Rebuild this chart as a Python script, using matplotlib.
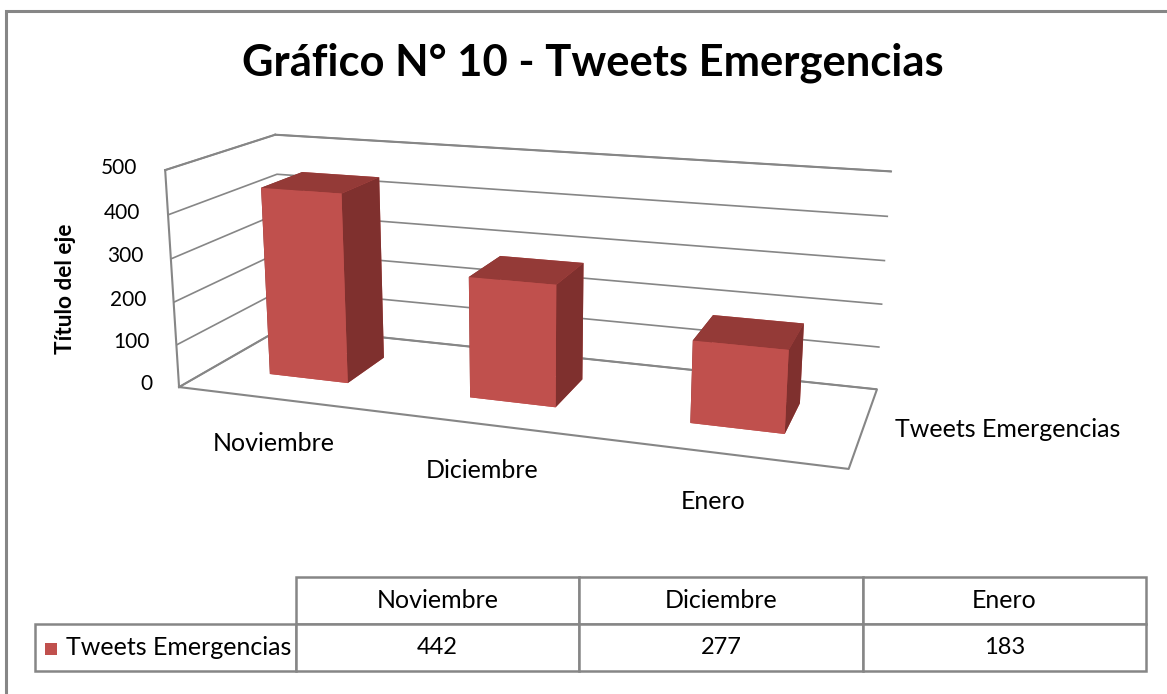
import matplotlib
matplotlib.use("Agg")
import matplotlib.pyplot as plt
import numpy as np
from matplotlib.patches import Rectangle
from matplotlib.table import Table

# data
categories = ["Noviembre", "Diciembre", "Enero"]
values = [442, 277, 183]
series_name = "Tweets Emergencias"
z_ticks = [0, 100, 200, 300, 400, 500]

title = "Gráfico N° 10 - Tweets Emergencias"
z_title = "Título del eje"

front_c = "#C0504D"
side_c = "#7F302E"
top_c = "#943A37"
line_c = "#868686"

plt.rcParams["font.family"] = ["Lato", "DejaVu Sans"]

W, H = 1167, 694
fig = plt.figure(figsize=(W / 100, H / 100), dpi=100)


def fx(px):
    return px / W


def fy(py):
    return 1 - py / H


# outer chart border
fig.add_artist(Rectangle((fx(6), -0.1), 1.2, fy(11) + 0.1, transform=fig.transFigure,
                         fill=False, edgecolor=line_c, lw=2.2))

fig.text(fx(593), fy(63), title, ha="center", va="center", fontsize=31.3, fontweight="bold")
fig.text(fx(66), fy(289), z_title, ha="center", va="center", rotation=90,
         fontsize=16.3, fontweight="bold")

# 3d column chart
ax = fig.add_axes([0.021, 0.2245, 0.85, 0.72], projection="3d")
ax.set_xlim(0, 3)
ax.set_ylim(0, 1)
ax.set_zlim(0, 500)
ax.set_box_aspect((3, 1, 1.0), zoom=1.45)
ax.view_init(elev=15, azim=-71)
ax.set_proj_type("persp", focal_length=0.55)

for axis in (ax.xaxis, ax.yaxis, ax.zaxis):
    axis.set_pane_color((1, 1, 1, 1))
    axis.pane.set_edgecolor((1, 1, 1, 0))
    axis.line.set_color((0, 0, 0, 0))
    axis._axinfo["tick"]["inward_factor"] = 0.0
    axis._axinfo["tick"]["outward_factor"] = 0.0
ax.set_xticks([])
ax.set_yticks([])
ax.set_zticks(z_ticks)
ax.zaxis.set_ticklabels([])
ax.zaxis._axinfo["grid"].update(color=line_c, linewidth=1.2)
ax.grid(True)

# wall / floor outline
kw = dict(color=line_c, lw=1.5)
ax.plot([0, 0], [0, 0], [0, 500], **kw)
ax.plot([0, 0], [0, 1], [500, 500], **kw)
ax.plot([0, 3], [1, 1], [500, 500], **kw)
ax.plot([0, 3, 3, 0, 0], [0, 0, 1, 1, 0], [0, 0, 0, 0, 0], **kw)

xs = np.arange(len(values)) + 0.5
bw, bd = 0.4, 0.4
face_colors = []
for _ in values:
    # -Z, +Z, -Y, +Y, -X, +X
    face_colors += [front_c, top_c, front_c, front_c, side_c, side_c]
ax.bar3d(xs - bw / 2, np.full(len(values), 0.5 - bd / 2), np.zeros(len(values)),
         bw, bd, values, color=face_colors, shade=False, edgecolor="none")

# the 3d axes box is square, so let the drawing spill out of it
for art in ax.lines + ax.collections:
    art.set_clip_on(False)

for z in z_ticks:
    ax.text(-0.14, 0, z, str(z), ha="right", va="center", fontsize=15)
for x, c in zip(xs, categories):
    ax.text(x - 0.03, 0, -106, c, ha="center", va="center", fontsize=18)
ax.text(3.13, 0.5, 0, series_name, ha="left", va="center", fontsize=18)

# data table
ax_t = fig.add_axes([fx(35), fy(671), fx(1146 - 35), fy(577) - fy(671)])
ax_t.axis("off")
tab = Table(ax_t, bbox=[0, 0, 1, 1])
lab_w, col_w = 261, 283.3
for j, c in enumerate(categories):
    cell = tab.add_cell(0, j + 1, width=col_w, height=1, text=c, loc="center")
cell = tab.add_cell(1, 0, width=lab_w, height=1, text=series_name, loc="left")
cell.PAD = 0.12
for j, v in enumerate(values):
    tab.add_cell(1, j + 1, width=col_w, height=1, text=str(v), loc="center")
tab.auto_set_font_size(False)
for (r, c), cell in tab.get_celld().items():
    cell.set_edgecolor(line_c)
    cell.set_linewidth(1.8)
    cell.get_text().set_fontsize(17 if (r == 1 and c > 0) else 18)
ax_t.add_table(tab)

# legend key in the table
fig.add_artist(Rectangle((fx(45), fy(655)), fx(12), fy(643) - fy(655),
                         transform=fig.transFigure, color=front_c, lw=0))

fig.savefig("out.png", dpi=100)
